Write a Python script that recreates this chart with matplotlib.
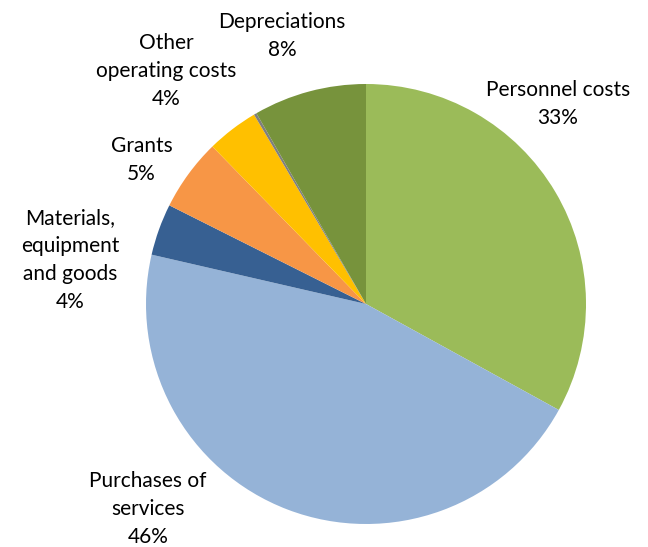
import matplotlib
matplotlib.use("Agg")
import matplotlib.pyplot as plt

# cost shares, clockwise from 12 o'clock
categories = ['Personnel costs', 'Purchases of\nservices', 'Materials,\nequipment\nand goods',
              'Grants', 'Other\noperating costs', '', 'Depreciations']
shares = [33.0, 45.6, 3.8, 5.3, 3.8, 0.2, 8.3]
colors = ['#9BBB59', '#95B3D7', '#376092', '#F79646', '#FFC000', '#7F7F7F', '#77933C']

# label centres (pie radius = 1)
label_pos = [(0.873, 0.909), (-0.991, -0.932), (-1.345, 0.20),
             (-1.020, 0.655), (-0.909, 1.059), None, (-0.382, 1.218)]

plt.rcParams['font.family'] = ['Lato', 'DejaVu Sans']

fig = plt.figure(figsize=(6.48, 5.47), dpi=100)
ax = fig.add_axes([0, 0, 1, 1])

ax.pie(shares, colors=colors, startangle=90, counterclock=False,
       radius=1, center=(0, 0), wedgeprops=dict(linewidth=0))

r_px = 220
pitch = 28 / r_px  # line to line distance of the labels

total = sum(shares)
for name, val, pos in zip(categories, shares, label_pos):
    if pos is None:
        continue
    lines = name.split('\n') + [f"{round(val / total * 100):.0f}%"]
    n = len(lines)
    for i, line in enumerate(lines):
        ax.text(pos[0], pos[1] + ((n - 1) / 2 - i) * pitch, line,
                ha='center', va='center', fontsize=15, color='#000000')

# map the pie so that its centre sits where the reference has it
cx, cy = 366, 304
ax.set_xlim(-cx / r_px, (648 - cx) / r_px)
ax.set_ylim(-(547 - cy) / r_px, cy / r_px)
ax.set_aspect('auto')
ax.axis('off')

fig.savefig('out.png', dpi=100)
